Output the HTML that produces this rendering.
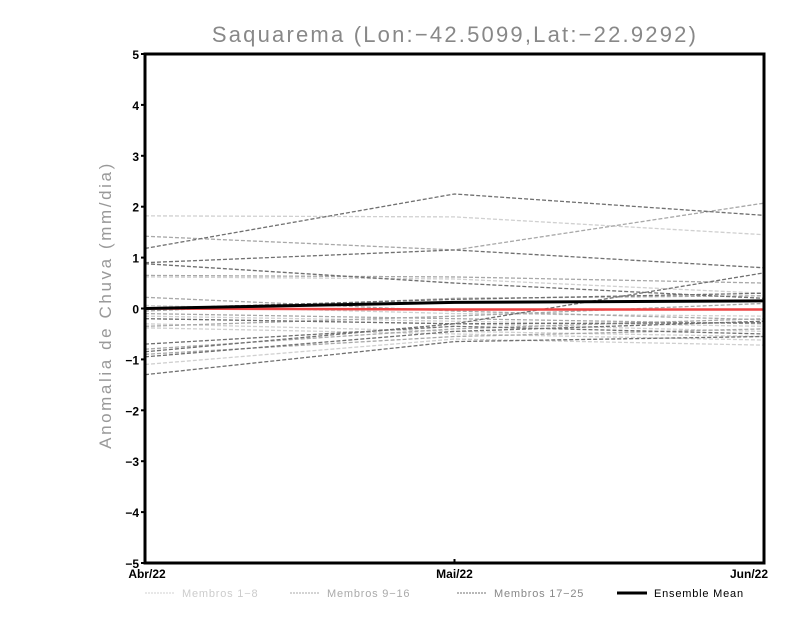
<!DOCTYPE html>
<html><head><meta charset="utf-8"><style>
body{margin:0;background:#fff;width:800px;height:618px;overflow:hidden}
svg{display:block}
text{font-family:"Liberation Sans",sans-serif}
</style></head><body>
<svg id="chart" width="800" height="618">
<text x="455" y="42" font-size="22" fill="#888" text-anchor="middle" letter-spacing="2.2">Saquarema (Lon:−42.5099,Lat:−22.9292)</text>
<text transform="translate(111,305) rotate(-90)" font-size="17" fill="#999" text-anchor="middle" letter-spacing="2.6">Anomalia de Chuva (mm/dia)</text>
<g id="marks"></g>
<rect x="145" y="54" width="619" height="509" fill="none" stroke="#000" stroke-width="3"/>
<g id="axes"></g>
<g id="legend"></g>
</svg>
<script>
const months = ["Abr/22","Mai/22","Jun/22"];
const yTicks = [-5,-4,-3,-2,-1,0,1,2,3,4,5];
const membros1_8 = [[1.82,1.8,1.45],[0.62,0.58,0.3],[0.06,-0.1,-0.15],[-0.2,-0.3,-0.45],[-0.3,-0.45,-0.55],[-0.38,-0.5,-0.62],[-1.1,-0.6,-0.72],[-0.15,-0.25,-0.35]];
const membros9_16 = [[1.42,1.15,2.07],[0.65,0.62,0.5],[0.22,-0.05,-0.22],[-0.1,-0.2,-0.3],[-0.35,-0.15,0.1],[-0.8,-0.4,-0.2],[-0.9,-0.55,-0.4],[-0.05,0.2,0.25]];
const membros17_25 = [[1.18,2.25,1.83],[0.9,1.15,0.8],[0.88,0.5,0.2],[0.0,0.18,0.3],[-0.7,-0.35,-0.5],[-0.85,-0.3,0.7],[-0.95,-0.45,-0.25],[-1.3,-0.65,-0.55],[-0.2,-0.3,-0.28]];
const ensembleMean = [0.0,0.12,0.15];
const redLine = [0.0,-0.02,-0.02];
const NS="http://www.w3.org/2000/svg";
const x0=145,x1=764,yTop=54,yBot=563;
function xS(i){return x0+(x1-x0)*i/(months.length-1);}
function yS(v){return yBot-(v+5)/10*(yBot-yTop);}
function mk(tag,attrs,parent){const e=document.createElementNS(NS,tag);for(const k in attrs)e.setAttribute(k,attrs[k]);parent.appendChild(e);return e;}
const marks=document.getElementById('marks'),axes=document.getElementById('axes'),legend=document.getElementById('legend');
function pts(a){return a.map((v,i)=>xS(i)+','+yS(v)).join(' ');}
const groups=[[membros1_8,'#d0d0d0','membros-1-8'],[membros9_16,'#a8a8a8','membros-9-16'],[membros17_25,'#707070','membros-17-25']];
groups.forEach(g=>{g[0].forEach((s,j)=>{
 const l=mk('polyline',{points:pts(s),fill:'none',stroke:g[1],'stroke-width':1.3,'stroke-dasharray':'4,2'},marks);
 
 
});});
const r=mk('polyline',{points:pts(redLine),fill:'none',stroke:'#ee4444','stroke-width':2.5},marks);


const m=mk('polyline',{points:pts(ensembleMean),fill:'none',stroke:'#000','stroke-width':3},marks);


yTicks.forEach(v=>{
 const y=yS(v);
 mk('line',{x1:x0-4,x2:x0,y1:y,y2:y,stroke:'#000','stroke-width':2},axes);
 const t=mk('text',{x:x0-6,y:y+5,'font-size':12,'font-weight':'bold','text-anchor':'end'},axes);
 t.textContent=v<0?'−'+(-v):String(v);
 
 
});
months.forEach((mn,i)=>{
 const x=xS(i);
 mk('line',{x1:x,x2:x,y1:yBot,y2:yBot-4,stroke:'#000','stroke-width':2},axes);
 const t=mk('text',{x:i==0?x+2:(i==months.length-1?x+4:x),y:yBot+15,'font-size':12,'font-weight':'bold','text-anchor':i==months.length-1?'end':'middle'},axes);
 t.textContent=mn;
 
 
});
const legItems=[['Membros 1−8','#d0d0d0',145,'#ccc'],['Membros 9−16','#a8a8a8',290,'#aaa'],['Membros 17−25','#707070',457,'#888'],['Ensemble Mean','#000',617,'#000']];
legItems.forEach((it,i)=>{
 const dash=i<3;
 mk('line',{x1:it[2],x2:it[2]+30,y1:593,y2:593,stroke:it[1],'stroke-width':dash?1:3,'stroke-dasharray':dash?'2,1':'none'},legend);
 const t=mk('text',{x:it[2]+37,y:597,'font-size':11,fill:it[3],'letter-spacing':'0.8'},legend);
 t.textContent=it[0];
 
 
});
</script>
</body></html>
